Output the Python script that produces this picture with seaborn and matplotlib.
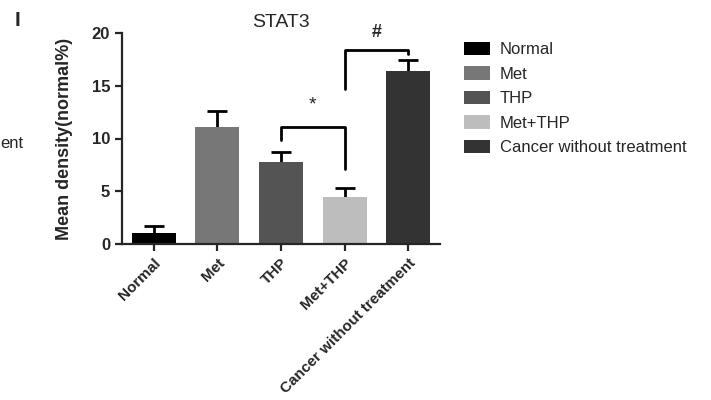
import matplotlib
matplotlib.use("Agg")
import matplotlib.pyplot as plt
import matplotlib.patches as mpatches
import seaborn as sns

# data
groups = ["Normal", "Met", "THP", "Met+THP", "Cancer without treatment"]
means = [1.0, 11.1, 7.8, 4.5, 16.4]
errs = [0.7, 1.5, 0.95, 0.8, 1.05]
colors = ["#000000", "#777777", "#545454", "#bdbdbd", "#333333"]

sns.set_style("ticks")
plt.rcParams["font.family"] = ["Liberation Sans", "DejaVu Sans"]

fig = plt.figure(figsize=(7.11, 4.0), dpi=100)
ax = fig.add_axes([122 / 711, 1 - 244 / 400, 318 / 711, 211 / 400])

# error bars behind the bars so only the upper half shows
ax.errorbar(range(len(groups)), means, yerr=errs, fmt="none", ecolor="black",
            elinewidth=2, capsize=7, capthick=2, zorder=0)
sns.barplot(x=groups, y=means, hue=groups, palette=colors, width=0.69,
            legend=False, ax=ax, zorder=2, edgecolor="none")

ax.set_xlim(-0.5, 4.5)
ax.set_ylim(0, 20)
ax.set_yticks([0, 5, 10, 15, 20])
sns.despine(ax=ax)
for s in ["left", "bottom"]:
    ax.spines[s].set_linewidth(1.6)
ax.tick_params(axis="both", width=1.6, length=5, labelsize=12)
for lab in ax.get_yticklabels():
    lab.set_fontweight("bold")
ax.set_xticks(range(len(groups)))
ax.set_xticklabels(groups, rotation=45, ha="right", rotation_mode="anchor",
                   fontsize=11, fontweight="bold")
ax.set_ylabel("Mean density(normal%)", fontsize=13, fontweight="bold")
ax.yaxis.set_label_coords(-0.155, 0.5)
ax.set_title("STAT3", fontsize=14, pad=4)

# significance brackets
ax.plot([2, 2, 3, 3], [9.85, 11.1, 11.1, 7.1], color="black", lw=2, clip_on=False)
ax.text(2.5, 12.4, "*", ha="center", va="bottom", fontsize=14)
ax.plot([3, 3, 4, 4], [14.7, 18.4, 18.4, 18.0], color="black", lw=2, clip_on=False)
ax.text(3.5, 19.2, "#", ha="center", va="bottom", fontsize=13, fontweight="bold")

handles = [mpatches.Patch(facecolor=c, edgecolor="none", label=g)
           for g, c in zip(groups, colors)]
fig.legend(handles=handles, loc="upper left", bbox_to_anchor=(457 / 711, 1 - 35 / 400),
           frameon=False, fontsize=12, handlelength=1.55, handleheight=0.85,
           labelspacing=0.55, handletextpad=0.6, borderaxespad=0)

fig.text(15 / 711, 1 - 20 / 400, "I", fontsize=15, fontweight="bold", va="center")
fig.text(0, 1 - 143 / 400, "ent", fontsize=12, va="center")

fig.savefig("out.png", dpi=100)
